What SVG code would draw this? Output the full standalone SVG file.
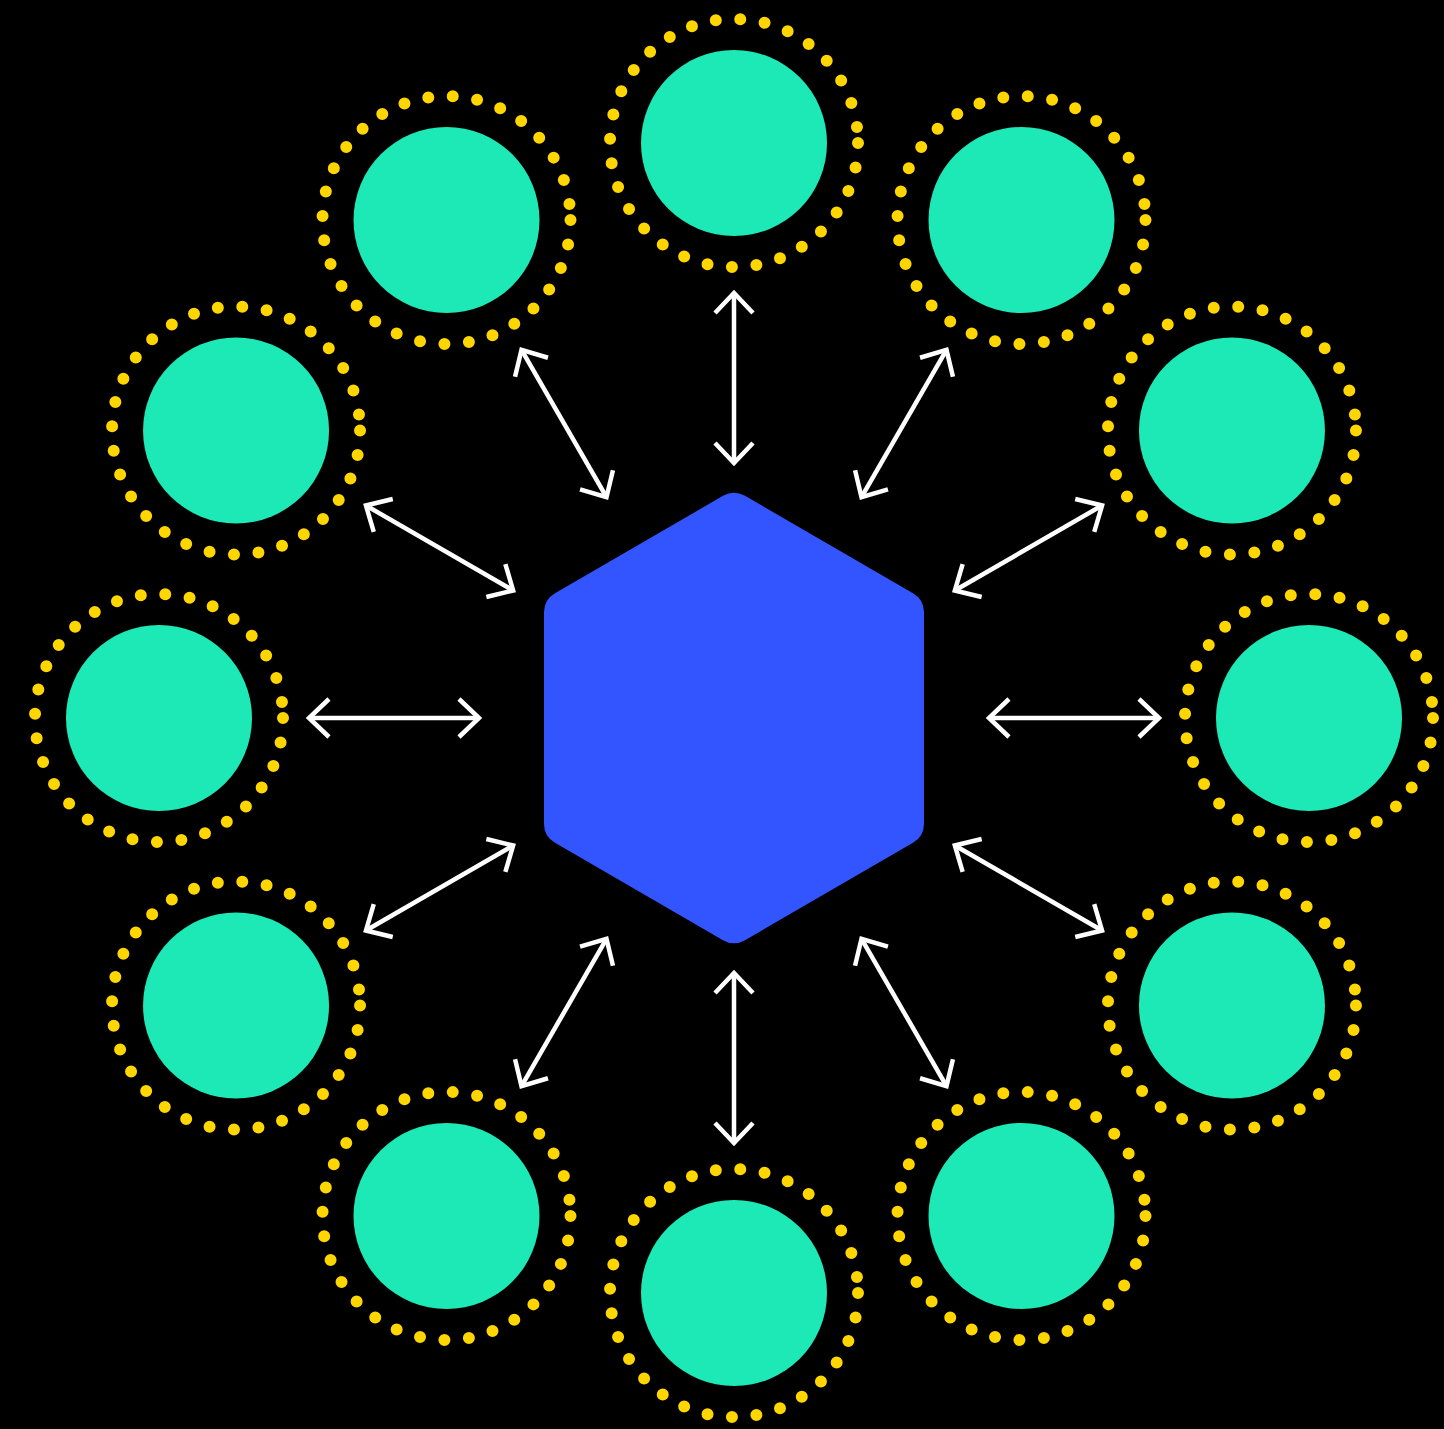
<svg xmlns="http://www.w3.org/2000/svg" width="1444" height="1429" viewBox="0 0 1444 1429">
<style>
.core{fill:#1DE9B6}
.ring{fill:none;stroke:#FFD600;stroke-width:12;stroke-linecap:round;stroke-dasharray:0 24.6}
.conn{stroke:#FFFFFF;stroke-width:4.5;fill:none;marker-start:url(#head);marker-end:url(#head)}
</style>
<defs>
<marker id="head" markerUnits="userSpaceOnUse" orient="auto-start-reverse" refX="0" refY="0" markerWidth="60" markerHeight="60" viewBox="-30 -30 60 60" overflow="visible">
<path d="M-20,-19 L0,0 L-20,19" fill="none" stroke="#FFFFFF" stroke-width="4.5"/>
</marker>
</defs>
<rect width="1444" height="1429" fill="#000000"/>
<g id="hub">
<path d="M745,495.85 L913,593.15 A22,22 0 0 1 924,612.2 L924,823.8 A22,22 0 0 1 913,842.85 L745,940.15 A22,22 0 0 1 723,940.15 L555,842.85 A22,22 0 0 1 544,823.8 L544,612.2 A22,22 0 0 1 555,593.15 L723,495.85 A22,22 0 0 1 745,495.85 Z" fill="#3355FF"/>
</g>
<g id="connectors">
<line class="conn" x1="734" y1="463" x2="734" y2="293" transform="rotate(0 734 718)"/>
<line class="conn" x1="734" y1="463" x2="734" y2="293" transform="rotate(30 734 718)"/>
<line class="conn" x1="734" y1="463" x2="734" y2="293" transform="rotate(60 734 718)"/>
<line class="conn" x1="734" y1="463" x2="734" y2="293" transform="rotate(90 734 718)"/>
<line class="conn" x1="734" y1="463" x2="734" y2="293" transform="rotate(120 734 718)"/>
<line class="conn" x1="734" y1="463" x2="734" y2="293" transform="rotate(150 734 718)"/>
<line class="conn" x1="734" y1="463" x2="734" y2="293" transform="rotate(180 734 718)"/>
<line class="conn" x1="734" y1="463" x2="734" y2="293" transform="rotate(210 734 718)"/>
<line class="conn" x1="734" y1="463" x2="734" y2="293" transform="rotate(240 734 718)"/>
<line class="conn" x1="734" y1="463" x2="734" y2="293" transform="rotate(270 734 718)"/>
<line class="conn" x1="734" y1="463" x2="734" y2="293" transform="rotate(300 734 718)"/>
<line class="conn" x1="734" y1="463" x2="734" y2="293" transform="rotate(330 734 718)"/>
</g>
<g id="node-0"><circle class="ring" cx="734" cy="143" r="124"/><circle class="core" cx="734" cy="143" r="93"/></g>
<g id="node-30"><circle class="ring" cx="1021.5" cy="220.04" r="124"/><circle class="core" cx="1021.5" cy="220.04" r="93"/></g>
<g id="node-60"><circle class="ring" cx="1231.96" cy="430.5" r="124"/><circle class="core" cx="1231.96" cy="430.5" r="93"/></g>
<g id="node-90"><circle class="ring" cx="1309" cy="718" r="124"/><circle class="core" cx="1309" cy="718" r="93"/></g>
<g id="node-120"><circle class="ring" cx="1231.96" cy="1005.5" r="124"/><circle class="core" cx="1231.96" cy="1005.5" r="93"/></g>
<g id="node-150"><circle class="ring" cx="1021.5" cy="1215.96" r="124"/><circle class="core" cx="1021.5" cy="1215.96" r="93"/></g>
<g id="node-180"><circle class="ring" cx="734" cy="1293" r="124"/><circle class="core" cx="734" cy="1293" r="93"/></g>
<g id="node-210"><circle class="ring" cx="446.5" cy="1215.96" r="124"/><circle class="core" cx="446.5" cy="1215.96" r="93"/></g>
<g id="node-240"><circle class="ring" cx="236.04" cy="1005.5" r="124"/><circle class="core" cx="236.04" cy="1005.5" r="93"/></g>
<g id="node-270"><circle class="ring" cx="159" cy="718" r="124"/><circle class="core" cx="159" cy="718" r="93"/></g>
<g id="node-300"><circle class="ring" cx="236.04" cy="430.5" r="124"/><circle class="core" cx="236.04" cy="430.5" r="93"/></g>
<g id="node-330"><circle class="ring" cx="446.5" cy="220.04" r="124"/><circle class="core" cx="446.5" cy="220.04" r="93"/></g>
</svg>
